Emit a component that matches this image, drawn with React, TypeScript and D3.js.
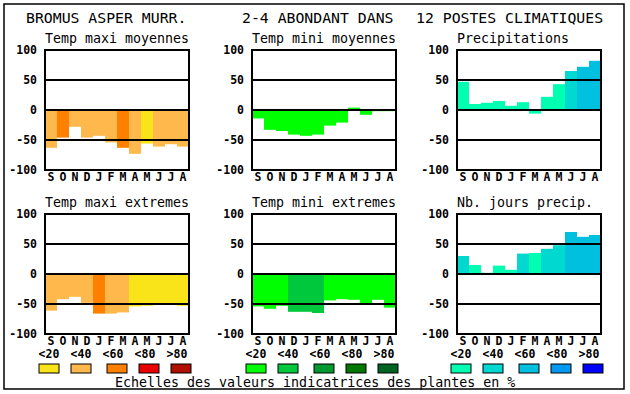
import * as d3 from "d3";

// Month letters, September to August
const months = ["S", "O", "N", "D", "J", "F", "M", "A", "M", "J", "J", "A"];
const yTicks = [100, 50, 0, -50, -100];
const gridValues = [50, 0, -50];
const legendLabels = ["<20", "<40", "<60", "<80", ">80"];

// Panel values (percent) and the class of each bar (1..5)
const tmaxMoy = [-63, -46, -28, -46, -43, -54, -63, -73, -56, -61, -57, -61];
const tmaxMoyClass = [2, 3, 2, 2, 2, 2, 3, 2, 1, 2, 2, 2];
const tminMoy = [-14, -33, -35, -41, -43, -41, -26, -21, 4, -8, -2, -2];
const tminMoyClass = [1, 1, 1, 1, 1, 1, 1, 1, 1, 1, 1, 1];
const precip = [47, 10, 12, 15, 7, 13, -6, 22, 43, 65, 72, 82];
const precipClass = [1, 1, 1, 1, 1, 1, 1, 1, 1, 2, 3, 3];
const tmaxExt = [-61, -42, -38, -48, -66, -66, -64, -54, -53, -49, -51, -53];
const tmaxExtClass = [2, 2, 2, 2, 3, 2, 2, 1, 1, 1, 1, 1];
const tminExt = [-54, -58, -53, -63, -63, -65, -44, -42, -43, -49, -43, -56];
const tminExtClass = [1, 1, 1, 2, 2, 2, 1, 1, 1, 1, 1, 1];
const nbJours = [30, 15, 2, 14, 7, 34, 35, 42, 48, 70, 62, 65];
const nbJoursClass = [2, 1, 1, 1, 1, 2, 1, 2, 2, 3, 3, 3];

const warmColors = ["#f8e418", "#ffb84c", "#ff8000", "#e80000", "#b01000"];
const greenColors = ["#00ff00", "#00c83c", "#009830", "#007800", "#006420"];
const blueColors = ["#00ffb0", "#00d8d0", "#00c0e0", "#0098f0", "#0000ff"];

const FONT = "'DejaVu Sans Mono', monospace";
const PW = 144;
const PH = 120;
const colX = [45, 252, 457];
const rowY = [50, 214];

type PanelProps = {
  x0: number;
  y0: number;
  title: string;
  values: number[];
  classes: number[];
  colors: string[];
};

function Panel({ x0, y0, title, values, classes, colors }: PanelProps) {
  const x = d3
    .scaleBand<number>()
    .domain(d3.range(months.length))
    .range([x0, x0 + PW])
    .padding(0);
  const y = d3.scaleLinear().domain([-100, 100]).range([y0 + PH, y0]);

  return (
    <g>
      <text x={x0} y={y0 - 7} fontFamily={FONT} fontSize={13.3}>
        {title}
      </text>
      {values.map((v, i) => (
        <rect
          key={i}
          x={x(i)}
          y={Math.min(y(0), y(v))}
          width={x.bandwidth()}
          height={Math.abs(y(v) - y(0))}
          fill={colors[classes[i] - 1]}
        />
      ))}
      {gridValues.map((g) => (
        <line key={g} x1={x0} x2={x0 + PW} y1={y(g)} y2={y(g)} stroke="#000" strokeWidth={2} />
      ))}
      <rect x={x0} y={y0} width={PW} height={PH} fill="none" stroke="#000" strokeWidth={2} />
      {yTicks.map((t) => (
        <text
          key={t}
          x={x0 - 8}
          y={y(t) + 4}
          textAnchor="end"
          fontFamily={FONT}
          fontWeight="bold"
          fontSize={11.5}
        >
          {t}
        </text>
      ))}
      {months.map((m, i) => (
        <text
          key={i}
          x={(x(i) as number) + x.bandwidth() / 2}
          y={y0 + PH + 11}
          textAnchor="middle"
          fontFamily={FONT}
          fontWeight="bold"
          fontSize={11.5}
        >
          {m}
        </text>
      ))}
    </g>
  );
}

function Legend({ x0, colors }: { x0: number; colors: string[] }) {
  const boxX = [-6, 26, 62, 94, 126];
  const labelX = [4, 36, 68, 100, 132];
  return (
    <g>
      {legendLabels.map((l, i) => (
        <g key={l}>
          <text
            x={x0 + labelX[i]}
            y={358}
            textAnchor="middle"
            fontFamily={FONT}
            fontWeight="bold"
            fontSize={11.5}
          >
            {l}
          </text>
          <rect x={x0 + boxX[i]} y={364} width={20} height={9} fill={colors[i]} stroke="#000" strokeWidth={1} />
        </g>
      ))}
    </g>
  );
}

export default function App() {
  return (
    <svg width={630} height={394} style={{ position: "absolute", left: 0, top: 0, background: "#fff" }}>
      <rect x={4} y={4} width={620} height={385} fill="#fff" stroke="#000" strokeWidth={1.5} />
      <text x={26} y={23} fontFamily={FONT} fontSize={14.8}>BROMUS ASPER MURR.</text>
      <text x={242} y={23} fontFamily={FONT} fontSize={14.8}>2-4 ABONDANT DANS</text>
      <text x={416} y={23} fontFamily={FONT} fontSize={14.8}>12 POSTES CLIMATIQUES</text>

      <Panel x0={colX[0]} y0={rowY[0]} title="Temp maxi moyennes" values={tmaxMoy} classes={tmaxMoyClass} colors={warmColors} />
      <Panel x0={colX[1]} y0={rowY[0]} title="Temp mini moyennes" values={tminMoy} classes={tminMoyClass} colors={greenColors} />
      <Panel x0={colX[2]} y0={rowY[0]} title="Precipitations" values={precip} classes={precipClass} colors={blueColors} />
      <Panel x0={colX[0]} y0={rowY[1]} title="Temp maxi extremes" values={tmaxExt} classes={tmaxExtClass} colors={warmColors} />
      <Panel x0={colX[1]} y0={rowY[1]} title="Temp mini extremes" values={tminExt} classes={tminExtClass} colors={greenColors} />
      <Panel x0={colX[2]} y0={rowY[1]} title="Nb. jours precip." values={nbJours} classes={nbJoursClass} colors={blueColors} />

      <Legend x0={colX[0]} colors={warmColors} />
      <Legend x0={colX[1]} colors={greenColors} />
      <Legend x0={colX[2]} colors={blueColors} />

      <text x={115} y={387} fontFamily={FONT} fontSize={13.3}>
        Echelles des valeurs indicatrices des plantes en %
      </text>
    </svg>
  );
}
